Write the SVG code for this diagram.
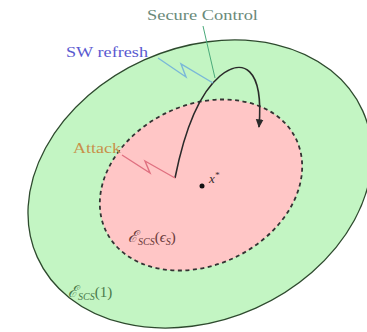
<svg xmlns="http://www.w3.org/2000/svg" width="367" height="332" viewBox="0 0 367 332">
<style>
.lbl{font-family:"Liberation Serif","DejaVu Serif",serif;font-size:15px}
.math{font-family:"Liberation Serif","DejaVu Serif",serif;font-style:italic}
</style>
<defs>
<marker id="ah" viewBox="0 0 10 10" refX="8" refY="5" markerWidth="6" markerHeight="6" orient="auto">
<path d="M0,1 L9,5 L0,9 Z" fill="#2a2a2a"/>
</marker>
</defs>
<rect width="367" height="332" fill="#ffffff"/>
<g id="outer">
<ellipse cx="200" cy="184" rx="178.4" ry="136" transform="rotate(-24.2 200 184)" fill="#c3f5c3" stroke="#2e4a2e" stroke-width="1.3"/>
<text class="math" x="68" y="297" fill="#4a7a4a" font-size="16">ℰ<tspan font-size="10" dy="3">SCS</tspan><tspan font-size="15" dy="-3" font-style="normal">(1)</tspan></text>
</g>
<g id="inner">
<ellipse cx="201" cy="185" rx="105.6" ry="80" transform="rotate(-26 201 185)" fill="#ffc6c6" stroke="#333333" stroke-width="1.8" stroke-dasharray="4,3.5"/>
<text class="math" x="128" y="242" fill="#6a3a3a" font-size="16">ℰ<tspan font-size="10" dy="3">SCS</tspan><tspan font-size="15" dy="-3" font-style="normal">(</tspan><tspan font-size="15">ϵ</tspan><tspan font-size="10" dy="3">S</tspan><tspan font-size="15" dy="-3" font-style="normal">)</tspan></text>
</g>
<g id="xstar">
<circle cx="202" cy="186" r="2.5" fill="#111111"/>
<text class="math" x="209" y="183" font-size="13" fill="#3a2a2a">x<tspan font-size="9" dy="-5">*</tspan></text>
</g>
<g id="connectors" fill="none">
<path d="M175,178 C183,138 196,96 220,76 C242,58 264,66 259,127" stroke="#2a2a2a" stroke-width="1.6" marker-end="url(#ah)"/>
<polyline points="158,58 186,77 181,64 213,83" stroke="#7ab8d8" stroke-width="1.4"/>
<polyline points="122,155 150,173 145,161 175,178" stroke="#e07080" stroke-width="1.4"/>
<line x1="203" y1="26" x2="215" y2="78" stroke="#4aaa7a" stroke-width="1"/>
</g>
<g id="labels">
<text class="lbl" x="147" y="20" fill="#6a8a7a" textLength="111" lengthAdjust="spacingAndGlyphs">Secure Control</text>
<text class="lbl" x="66" y="57" fill="#5a5ad0" textLength="82" lengthAdjust="spacingAndGlyphs">SW refresh</text>
<text class="lbl" x="73" y="153" fill="#c8904a" textLength="48" lengthAdjust="spacingAndGlyphs">Attack</text>
</g>
</svg>
